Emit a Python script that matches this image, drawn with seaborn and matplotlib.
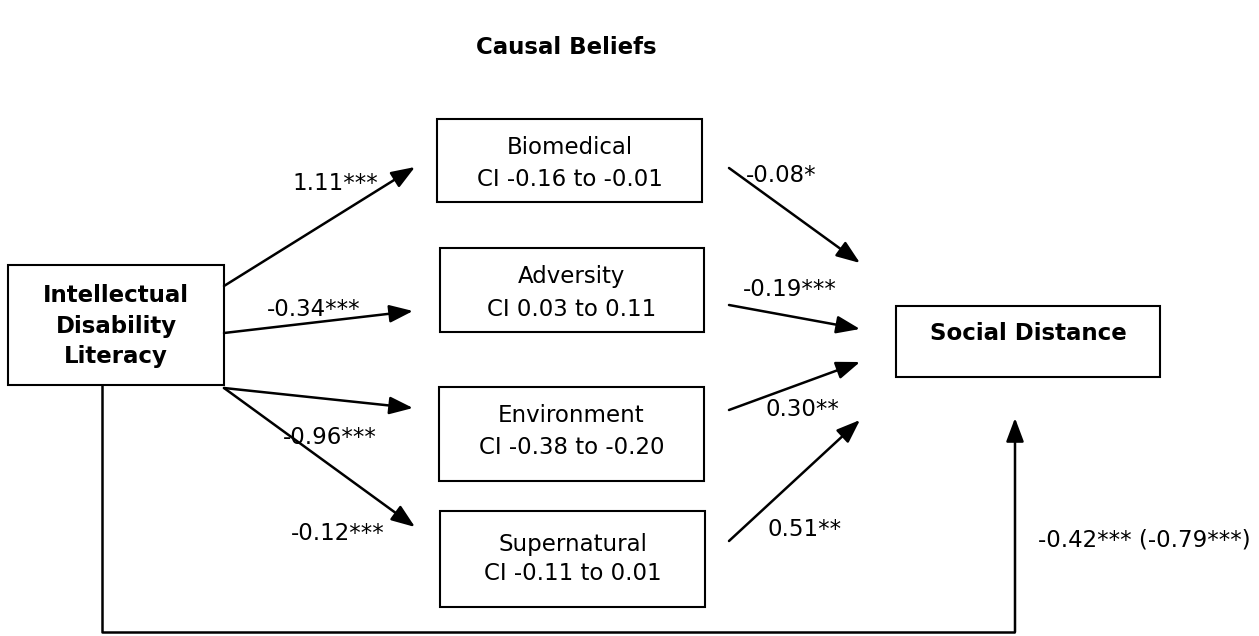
import matplotlib.pyplot as plt
import seaborn as sns
from matplotlib.patches import Rectangle

# Mediators and their confidence intervals
mediators = ["Biomedical", "Adversity", "Environment", "Supernatural"]
mediator_ci = ["CI -0.16 to -0.01", "CI 0.03 to 0.11", "CI -0.38 to -0.20", "CI -0.11 to 0.01"]
# path a: literacy -> mediator, path b: mediator -> social distance
path_a = ["1.11***", "-0.34***", "-0.96***", "-0.12***"]
path_b = ["-0.08*", "-0.19***", "0.30**", "0.51**"]
direct_label = "-0.42*** (-0.79***)"
predictor = ["Intellectual", "Disability", "Literacy"]
outcome = "Social Distance"
title = "Causal Beliefs"

sns.set_theme(style="white")
plt.rcParams['font.family'] = ['DejaVu Sans']
plt.rcParams['text.color'] = 'black'

fig = plt.figure(figsize=(12.59, 6.36), dpi=100)
ax = fig.add_axes([0, 0, 1, 1])
ax.set_xlim(0, 1259)
ax.set_ylim(636, 0)
ax.axis('off')

FS = 16.5
lw = 1.8

def box(x0, y0, x1, y1):
    ax.add_patch(Rectangle((x0, y0), x1 - x0, y1 - y0, fill=False,
                           edgecolor='black', linewidth=1.5))

def arrow(p0, p1):
    ax.annotate("", xy=p1, xytext=p0,
                arrowprops=dict(arrowstyle="-|>,head_length=1.2,head_width=0.45",
                                color='black', lw=lw, shrinkA=0, shrinkB=0))

ax.text(566, 48, title, ha='center', va='center', fontsize=FS, fontweight='bold')

# predictor box
box(8, 265, 224, 385)
for line, y in zip(predictor, [295, 326, 357]):
    ax.text(116, y, line, ha='center', va='center', fontsize=FS, fontweight='bold')

# outcome box
box(896, 306, 1160, 377)
ax.text(1028, 333, outcome, ha='center', va='center', fontsize=FS, fontweight='bold')

# mediator boxes
med_boxes = [(437, 119, 702, 202), (440, 248, 704, 332), (439, 387, 704, 481), (440, 511, 705, 607)]
med_text_y = [(148, 179), (277, 310), (416, 447), (544, 574)]
for name, ci, (x0, y0, x1, y1), (ty1, ty2) in zip(mediators, mediator_ci, med_boxes, med_text_y):
    box(x0, y0, x1, y1)
    ax.text((x0 + x1) / 2, ty1, name, ha='center', va='center', fontsize=FS)
    ax.text((x0 + x1) / 2, ty2, ci, ha='center', va='center', fontsize=FS)

# a paths
a_arrows = [((224, 286), (415, 167)), ((224, 333), (413, 311)),
            ((224, 388), (413, 408)), ((224, 388), (415, 527))]
a_label_pos = [(335, 184), (314, 309), (330, 437), (338, 533)]
for (p0, p1), lab, pos in zip(a_arrows, path_a, a_label_pos):
    arrow(p0, p1)
    ax.text(pos[0], pos[1], lab, ha='center', va='center', fontsize=FS)

# b paths
b_arrows = [((729, 168), (860, 263)), ((729, 305), (860, 329)),
            ((729, 410), (860, 362)), ((729, 541), (860, 420))]
b_label_pos = [(781, 176), (790, 289), (802, 410), (805, 530)]
for (p0, p1), lab, pos in zip(b_arrows, path_b, b_label_pos):
    arrow(p0, p1)
    ax.text(pos[0], pos[1], lab, ha='center', va='center', fontsize=FS)

# direct path
ax.plot([102, 102, 1015], [385, 632, 632], color='black', lw=lw, solid_capstyle='butt')
arrow((1015, 632), (1015, 418))
ax.text(1144, 540, direct_label, ha='center', va='center', fontsize=FS)

fig.savefig("out.png", dpi=100, facecolor='white')
